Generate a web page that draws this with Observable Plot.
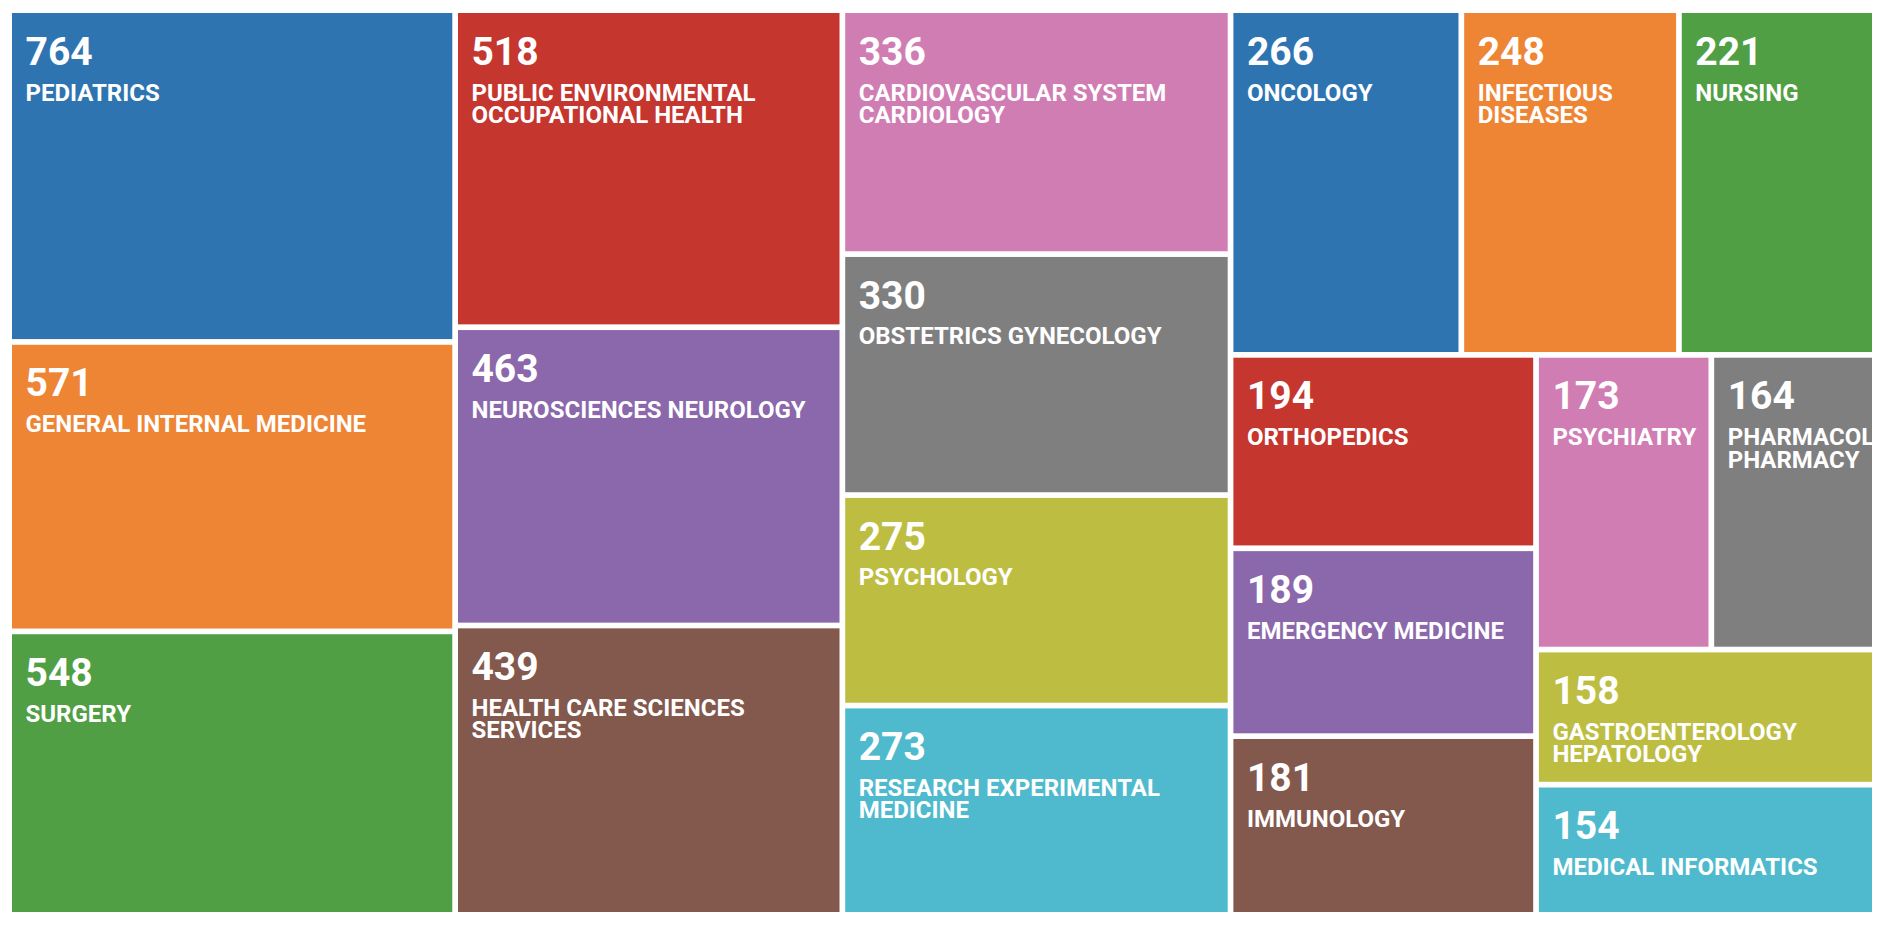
<!DOCTYPE html>
<html>
<head>
<meta charset="utf-8">
<script src="https://cdn.jsdelivr.net/npm/d3@7"></script>
<script src="https://cdn.jsdelivr.net/npm/@observablehq/plot@0.6"></script>
<style>
  html, body { margin: 0; padding: 0; background: #ffffff; }
  svg { display: block; }
</style>
</head>
<body>
<div id="chart"></div>
<script>
// ---- data ----
const categories = [
  "PEDIATRICS", "GENERAL INTERNAL MEDICINE", "SURGERY",
  "PUBLIC ENVIRONMENTAL OCCUPATIONAL HEALTH", "NEUROSCIENCES NEUROLOGY", "HEALTH CARE SCIENCES SERVICES",
  "CARDIOVASCULAR SYSTEM CARDIOLOGY", "OBSTETRICS GYNECOLOGY", "PSYCHOLOGY", "RESEARCH EXPERIMENTAL MEDICINE",
  "ONCOLOGY", "INFECTIOUS DISEASES", "NURSING",
  "ORTHOPEDICS", "EMERGENCY MEDICINE", "IMMUNOLOGY",
  "PSYCHIATRY", "PHARMACOLOGY PHARMACY", "GASTROENTEROLOGY HEPATOLOGY", "MEDICAL INFORMATICS"
];
const counts = [764, 571, 548, 518, 463, 439, 336, 330, 275, 273, 266, 248, 221, 194, 189, 181, 173, 164, 158, 154];
const palette = ["#2e74b1", "#ee8535", "#519f45", "#c5362f", "#8a68ab", "#83584d", "#d07db4", "#7f7f7f", "#bdbd42", "#4fbacd"];

// ---- layout (d3 treemap, log-scaled tile sizes) ----
const W = 1860, H = 899;
const root = d3.hierarchy({children: categories.map((name, i) => ({name, count: counts[i]}))})
  .sum(d => d.count ? Math.log(d.count / 78) : 0)
  .sort((a, b) => b.value - a.value);
d3.treemap().tile(d3.treemapSquarify).size([W, H]).paddingInner(5.7)(root);
const cells = root.leaves().map(n => ({name: n.data.name, count: n.data.count, x0: n.x0, x1: n.x1, y0: n.y0, y1: n.y1}));

// word wrap labels to the cell width
const LABEL_FONT = "700 24px Roboto";
const ctx = document.createElement("canvas").getContext("2d");
ctx.font = LABEL_FONT;
function wrap(text, maxW) {
  const words = text.split(" ");
  const lines = [];
  let line = "";
  for (const w of words) {
    const t = line ? line + " " + w : w;
    if (line && ctx.measureText(t).width > maxW) { lines.push(line); line = w; }
    else line = t;
  }
  lines.push(line);
  return lines.join("\n");
}
cells.forEach(c => { c.label = wrap(c.name, c.x1 - c.x0 - 26); c.num = String(c.count); });

const chart = Plot.plot({
  width: 1890,
  height: 932,
  marginLeft: 12, marginRight: 18, marginTop: 13, marginBottom: 20,
  x: {domain: [0, W], axis: null},
  y: {domain: [H, 0], axis: null},
  color: {type: "ordinal", domain: categories, range: categories.map((_, i) => palette[i % palette.length])},
  marks: [
    Plot.rect(cells, {x1: "x0", x2: "x1", y1: "y0", y2: "y1", fill: "name"}),
    Plot.text(cells, {x: "x0", y: "y0", text: "num", dx: 13, dy: 23.5, textAnchor: "start", lineAnchor: "top",
      fill: "#ffffff", fontSize: 39, fontWeight: 700, fontFamily: "Roboto"}),
    Plot.text(cells, {x: "x0", y: "y0", text: "label", dx: 13, dy: 71, textAnchor: "start", lineAnchor: "top",
      lineHeight: 0.94, fill: "#ffffff", fontSize: 24, fontWeight: 700, fontFamily: "Roboto"})
  ]
});
document.getElementById("chart").appendChild(chart);

// clip each text to its own cell
const svg = chart.tagName.toLowerCase() === "svg" ? chart : chart.querySelector("svg");
const sx = chart.scale("x"), sy = chart.scale("y");
const NS = "http://www.w3.org/2000/svg";
const defs = document.createElementNS(NS, "defs");
svg.insertBefore(defs, svg.firstChild);
let clipId = 0;
svg.querySelectorAll('g[aria-label="text"]').forEach(g => {
  Array.from(g.querySelectorAll("text")).forEach((t, i) => {
    const c = cells[i];
    const wrapper = document.createElementNS(NS, "g");
    t.parentNode.insertBefore(wrapper, t);
    wrapper.appendChild(t);
    const m = wrapper.getCTM();
    const px0 = sx.apply(c.x0), px1 = sx.apply(c.x1);
    const py0 = sy.apply(c.y0), py1 = sy.apply(c.y1);
    const id = "cellclip" + (clipId++);
    const cp = document.createElementNS(NS, "clipPath");
    cp.setAttribute("id", id);
    const r = document.createElementNS(NS, "rect");
    r.setAttribute("x", Math.min(px0, px1) - (m ? m.e : 0));
    r.setAttribute("y", Math.min(py0, py1) - (m ? m.f : 0));
    r.setAttribute("width", Math.abs(px1 - px0));
    r.setAttribute("height", Math.abs(py1 - py0));
    cp.appendChild(r);
    defs.appendChild(cp);
    wrapper.setAttribute("clip-path", `url(#${id})`);
  });
});
</script>
</body>
</html>
